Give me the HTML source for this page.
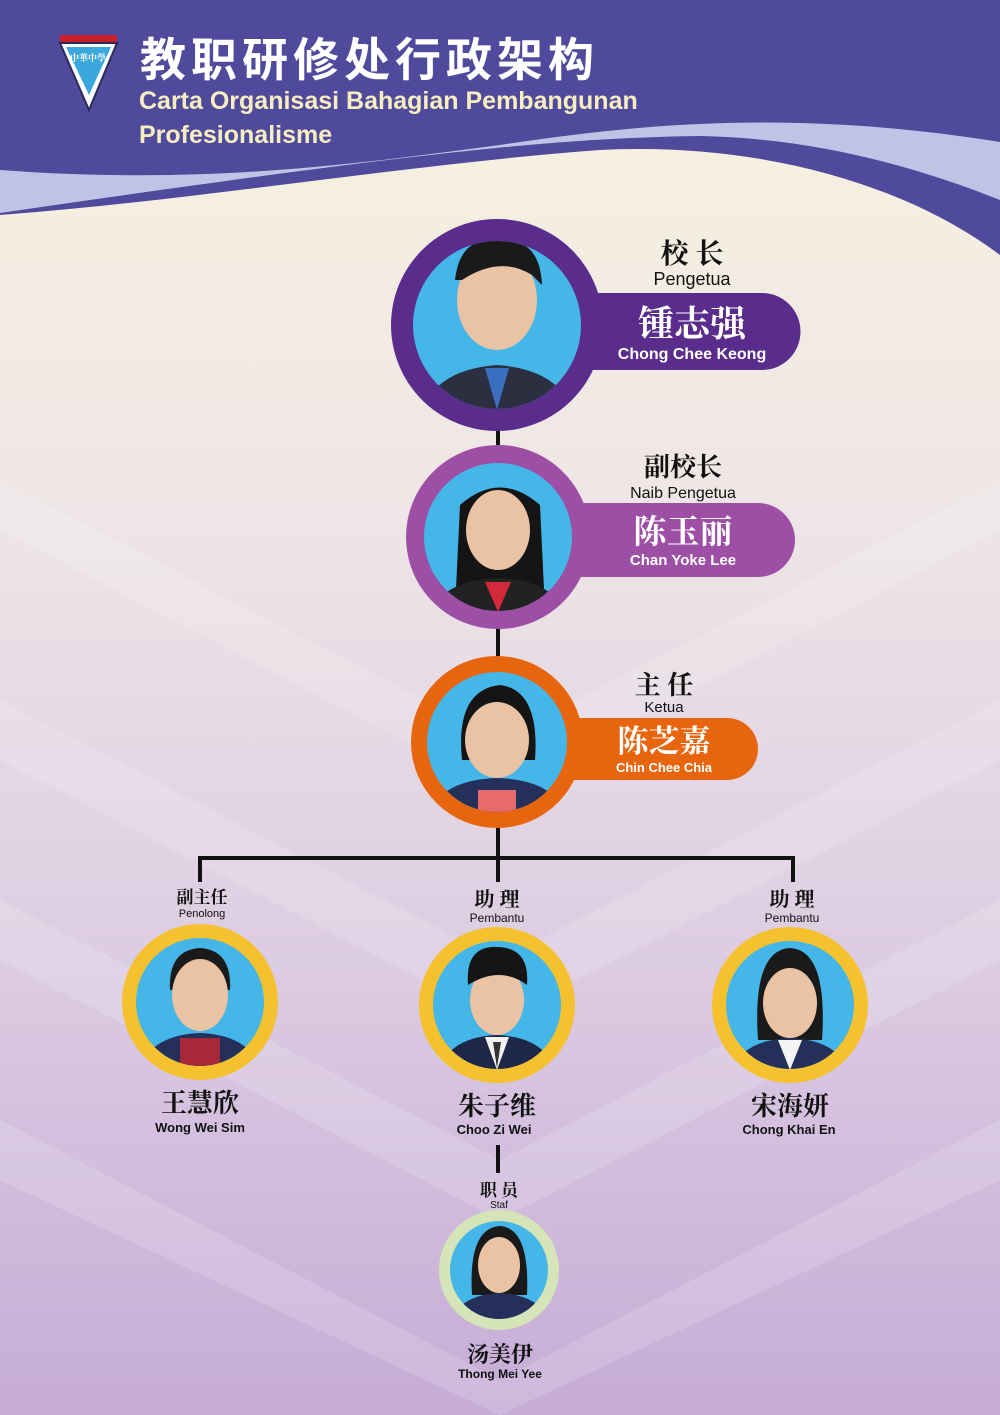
<!DOCTYPE html>
<html><head><meta charset="utf-8"><style>
html,body{margin:0;padding:0;width:1000px;height:1415px;overflow:hidden}
svg{display:block}
.cn{font-family:"Noto Serif CJK SC","WenQuanYi Zen Hei",serif;font-weight:700}
.la{font-family:"Liberation Sans","DejaVu Sans",sans-serif}
</style></head><body>
<svg width="1000" height="1415" viewBox="0 0 1000 1415" xmlns="http://www.w3.org/2000/svg">
<defs>
<linearGradient id="bg" x1="0" y1="0" x2="0" y2="1">
<stop offset="0" stop-color="#f6f0e0"/><stop offset="0.3" stop-color="#eee5e6"/><stop offset="0.65" stop-color="#dccbe2"/><stop offset="1" stop-color="#c6acd6"/>
</linearGradient>
<clipPath id="c1"><circle cx="497" cy="325" r="84"/></clipPath>
<clipPath id="c2"><circle cx="498" cy="537" r="74"/></clipPath>
<clipPath id="c3"><circle cx="497" cy="742" r="70"/></clipPath>
<clipPath id="c4"><circle cx="200" cy="1002" r="64"/></clipPath>
<clipPath id="c5"><circle cx="497" cy="1005" r="64"/></clipPath>
<clipPath id="c6"><circle cx="790" cy="1005" r="64"/></clipPath>
<clipPath id="c7"><circle cx="499" cy="1270" r="49"/></clipPath>
</defs>
<rect width="1000" height="1415" fill="#4f4a9b"/>
<path d="M0,170 C200,185 350,165 500,145 C650,122 800,110 1000,142 L1000,200 C900,160 800,138 700,136 C550,138 400,155 0,213 Z" fill="#bfc4e6"/>
<path d="M0,215 C200,200 400,165 600,150 C750,142 900,180 1000,255 V1415 H0Z" fill="url(#bg)"/>
<!-- chevrons -->
<g fill="#ffffff" opacity="0.15">
<polygon points="0,700 500,960 1000,700 1000,760 500,1020 0,760"/>
<polygon points="0,900 500,1160 1000,900 1000,960 500,1220 0,960"/>
<polygon points="0,1120 500,1380 1000,1120 1000,1180 500,1415 0,1180"/>
<polygon points="0,480 500,740 1000,480 1000,530 500,790 0,530"/>
</g>
<!-- logo -->
<rect x="60" y="35" width="57" height="8" fill="#c8202a"/>
<polygon points="60,43 117,43 89,110" fill="#ffffff" stroke="#2a2a5a" stroke-width="2"/>
<polygon points="66,47 111,47 89,95" fill="#3aa7dd"/>
<text x="88" y="61" font-size="9" fill="#fff" text-anchor="middle" class="cn">中華中學</text>
<text x="140" y="76" font-size="46" fill="#ffffff" style="font-family:'WenQuanYi Zen Hei','Noto Sans CJK SC',sans-serif;font-weight:700;letter-spacing:5px">教职研修处行政架构</text>
<text x="139" y="109" font-size="25" fill="#f6eec0" class="la" font-weight="700">Carta Organisasi Bahagian Pembangunan</text>
<text x="139" y="143" font-size="25" fill="#f6eec0" class="la" font-weight="700">Profesionalisme</text>
<!-- connectors -->
<g stroke="#111" stroke-width="4" fill="none">
<line x1="498" y1="420" x2="498" y2="860"/>
<polyline points="200,882 200,858 793,858 793,882"/>
<line x1="498" y1="858" x2="498" y2="882"/>
<line x1="498" y1="1145" x2="498" y2="1173"/>
</g>
<!-- node1 -->
<path d="M560,293 H762 A38.5,38.5 0 0 1 762,370 H560 Z" fill="#5a2d8c"/>
<circle cx="497" cy="325" r="106" fill="#5a2d8c"/>
<circle cx="497" cy="325" r="84" fill="#45b6e8"/>
<g clip-path="url(#c1)"><ellipse cx="497" cy="300" rx="40" ry="50" fill="#eac2a4"/><path d="M455,280 Q460,235 500,240 Q540,238 542,285 L532,275 Q500,255 462,280Z" fill="#1a1a1a"/><path d="M420,420 Q430,370 497,365 Q565,370 575,420Z" fill="#2b2f40"/><polygon points="485,368 509,368 497,410" fill="#3a6fc0"/></g>
<text x="692" y="263" font-size="28" class="cn" fill="#111" text-anchor="middle">校 长</text>
<text x="692" y="285" font-size="18" class="la" fill="#111" text-anchor="middle">Pengetua</text>
<text x="692" y="336" font-size="36" class="cn" fill="#fff" text-anchor="middle">锺志强</text>
<text x="692" y="359" font-size="16" class="la" font-weight="700" fill="#fff" text-anchor="middle">Chong Chee Keong</text>
<!-- node2 -->
<path d="M575,503 H758 A37,37 0 0 1 758,577 H575 Z" fill="#9c4fa4"/>
<circle cx="498" cy="537" r="92" fill="#9c4fa4"/>
<circle cx="498" cy="537" r="74" fill="#45b6e8"/>
<g clip-path="url(#c2)"><path d="M455,610 L460,505 Q500,470 540,505 L545,610Z" fill="#151515"/><ellipse cx="498" cy="530" rx="32" ry="40" fill="#eac2a4"/><path d="M425,620 Q440,580 498,578 Q556,580 570,620Z" fill="#222"/><polygon points="485,582 511,582 498,612" fill="#d22a3a"/></g>
<text x="683" y="476" font-size="26" class="cn" fill="#111" text-anchor="middle">副校长</text>
<text x="683" y="498" font-size="16" class="la" fill="#111" text-anchor="middle">Naib Pengetua</text>
<text x="683" y="543" font-size="33" class="cn" fill="#fff" text-anchor="middle">陈玉丽</text>
<text x="683" y="565" font-size="15" class="la" font-weight="700" fill="#fff" text-anchor="middle">Chan Yoke Lee</text>
<!-- node3 -->
<path d="M570,718 H727 A31,31 0 0 1 727,780 H570 Z" fill="#e8650f"/>
<circle cx="497" cy="742" r="86" fill="#e8650f"/>
<circle cx="497" cy="742" r="70" fill="#45b6e8"/>
<g clip-path="url(#c3)"><path d="M462,760 Q455,690 500,685 Q540,690 535,760Z" fill="#151515"/><ellipse cx="497" cy="740" rx="32" ry="38" fill="#eac2a4"/><path d="M430,815 Q440,780 497,778 Q555,780 565,815Z" fill="#24305a"/><rect x="478" y="790" width="38" height="30" fill="#e86a6a"/></g>
<text x="664" y="694" font-size="26" class="cn" fill="#111" text-anchor="middle">主 任</text>
<text x="664" y="712" font-size="15" class="la" fill="#111" text-anchor="middle">Ketua</text>
<text x="664" y="752" font-size="31" class="cn" fill="#fff" text-anchor="middle">陈芝嘉</text>
<text x="664" y="772" font-size="13" class="la" font-weight="700" fill="#fff" text-anchor="middle">Chin Chee Chia</text>
<!-- bottom nodes -->
<g>
<circle cx="200" cy="1002" r="78" fill="#f5c12e"/><circle cx="200" cy="1002" r="64" fill="#45b6e8"/>
<g clip-path="url(#c4)"><path d="M170,990 Q168,950 200,948 Q232,950 230,990Z" fill="#1a1a1a"/><ellipse cx="200" cy="995" rx="28" ry="36" fill="#eac2a4"/><path d="M140,1070 Q150,1035 200,1033 Q250,1035 260,1070Z" fill="#24305a"/><rect x="180" y="1038" width="40" height="30" fill="#a8283a"/></g>
<text x="202" y="903" font-size="17" class="cn" fill="#111" text-anchor="middle">副主任</text>
<text x="202" y="917" font-size="11" class="la" fill="#111" text-anchor="middle">Penolong</text>
<text x="200" y="1112" font-size="26" class="cn" fill="#111" text-anchor="middle">王慧欣</text>
<text x="200" y="1132" font-size="13" class="la" font-weight="700" fill="#111" text-anchor="middle">Wong Wei Sim</text>

<circle cx="497" cy="1005" r="78" fill="#f5c12e"/><circle cx="497" cy="1005" r="64" fill="#45b6e8"/>
<g clip-path="url(#c5)"><ellipse cx="497" cy="1000" rx="27" ry="35" fill="#eac2a4"/><path d="M468,985 Q465,945 498,947 Q530,948 527,985 Q500,965 468,985Z" fill="#151515"/><path d="M437,1075 Q447,1037 497,1035 Q547,1037 557,1075Z" fill="#1e2748"/><polygon points="485,1037 509,1037 497,1070" fill="#f2f2f2"/><polygon points="493,1042 501,1042 497,1068" fill="#333"/></g>
<text x="497" y="906" font-size="20" class="cn" fill="#111" text-anchor="middle">助 理</text>
<text x="497" y="922" font-size="12" class="la" fill="#111" text-anchor="middle">Pembantu</text>
<text x="497" y="1115" font-size="26" class="cn" fill="#111" text-anchor="middle">朱子维</text>
<text x="494" y="1134" font-size="13" class="la" font-weight="700" fill="#111" text-anchor="middle">Choo Zi Wei</text>

<circle cx="790" cy="1005" r="78" fill="#f5c12e"/><circle cx="790" cy="1005" r="64" fill="#45b6e8"/>
<g clip-path="url(#c6)"><path d="M758,1040 Q752,950 790,948 Q828,950 822,1040Z" fill="#1a1a1a"/><ellipse cx="790" cy="1003" rx="27" ry="35" fill="#eac2a4"/><path d="M730,1075 Q740,1040 790,1038 Q840,1040 850,1075Z" fill="#24305a"/><polygon points="778,1040 802,1040 790,1070" fill="#f4f4f4"/></g>
<text x="792" y="906" font-size="20" class="cn" fill="#111" text-anchor="middle">助 理</text>
<text x="792" y="922" font-size="12" class="la" fill="#111" text-anchor="middle">Pembantu</text>
<text x="790" y="1115" font-size="26" class="cn" fill="#111" text-anchor="middle">宋海妍</text>
<text x="789" y="1134" font-size="13" class="la" font-weight="700" fill="#111" text-anchor="middle">Chong Khai En</text>

<circle cx="499" cy="1270" r="60" fill="#d5e5b8"/><circle cx="499" cy="1270" r="49" fill="#45b6e8"/>
<g clip-path="url(#c7)"><path d="M472,1295 Q468,1228 500,1226 Q530,1228 527,1295Z" fill="#1a1a1a"/><ellipse cx="499" cy="1265" rx="21" ry="28" fill="#eac2a4"/><path d="M450,1322 Q460,1295 499,1293 Q540,1295 550,1322Z" fill="#24305a"/></g>
<text x="499" y="1196" font-size="17" class="cn" fill="#111" text-anchor="middle">职 员</text>
<text x="499" y="1208" font-size="10" class="la" fill="#111" text-anchor="middle">Staf</text>
<text x="500" y="1362" font-size="22" class="cn" fill="#111" text-anchor="middle">汤美伊</text>
<text x="500" y="1378" font-size="12" class="la" font-weight="700" fill="#111" text-anchor="middle">Thong Mei Yee</text>
</g>
</svg>
</body></html>
